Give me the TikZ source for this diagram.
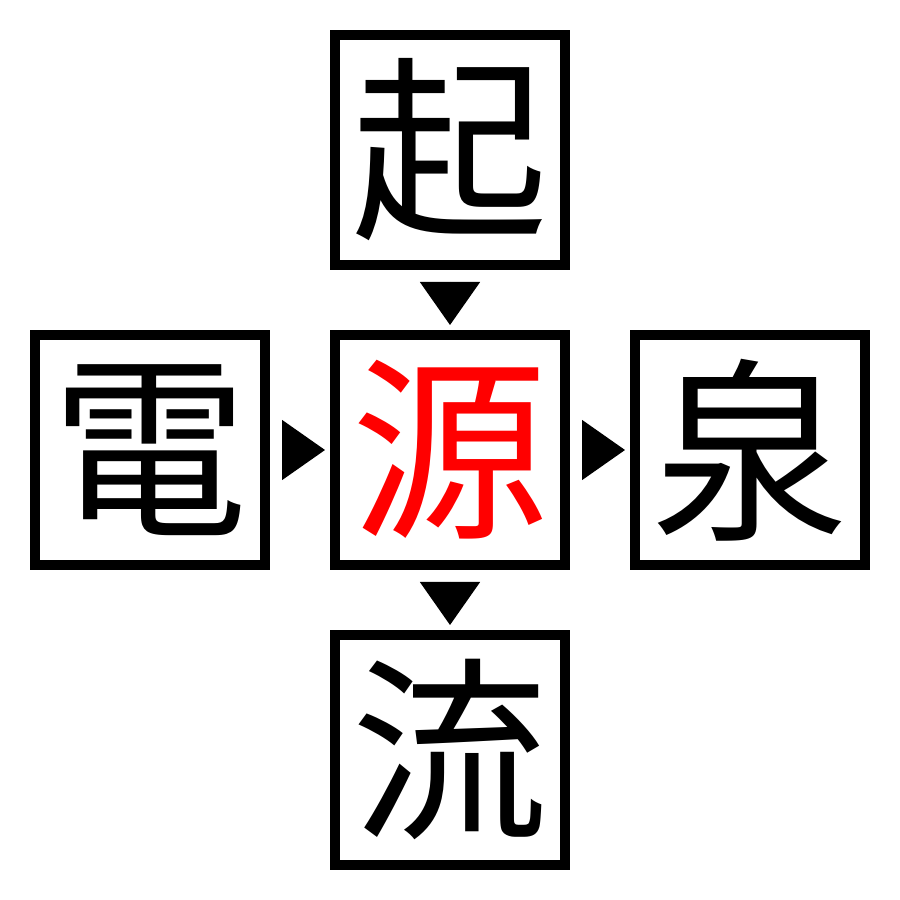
\documentclass[tikz,border=0pt]{standalone}
\usepackage{fontspec}
\newfontfamily\cjk{Noto Sans CJK JP}
\usetikzlibrary{arrows.meta}

\tikzset{%
  hanzi/.style={
    rectangle,
    draw,
    line width=1mm,
    minimum size=2.3cm,
    inner sep=0pt,
    font=\cjk\fontsize{56}{56}\selectfont,
    align=center
  },
  hanzi arrow/.style={
    -{Triangle[length=4.3mm,width=6mm]},
    shorten <=1.2mm,
    shorten >=0.5mm
  },
}

\begin{document}
\begin{tikzpicture}
\useasboundingbox (0,0) rectangle (9,9);
\node[hanzi] (qi) at (4.5,7.5) {起};
\node[hanzi] (dian) at (1.5,4.5) {電};
\node[hanzi,text=red] (yuan) at (4.5,4.5) {源};
\node[hanzi] (quan) at (7.5,4.5) {泉};
\node[hanzi] (liu) at (4.5,1.5) {流};
\draw[hanzi arrow] (qi) -- (yuan);
\draw[hanzi arrow] (dian) -- (yuan);
\draw[hanzi arrow] (yuan) -- (quan);
\draw[hanzi arrow] (yuan) -- (liu);
\end{tikzpicture}
\end{document}
